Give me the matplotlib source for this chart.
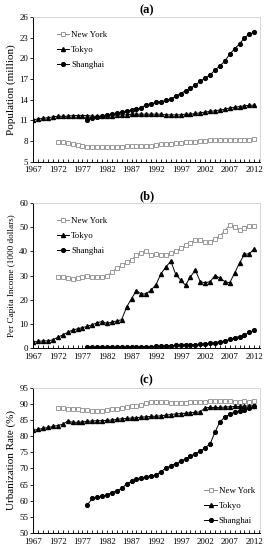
import matplotlib
matplotlib.use("Agg")
import matplotlib.pyplot as plt
import numpy as np
from matplotlib.ticker import MultipleLocator

plt.rcParams['font.family'] = ['Liberation Serif', 'DejaVu Serif']

years_ny = list(range(1972, 2013))
years_tk = list(range(1967, 2013))
years_sh = list(range(1978, 2013))

pop_ny = [7.9, 7.8, 7.7, 7.5, 7.4, 7.3, 7.2, 7.2, 7.1, 7.1, 7.1, 7.2, 7.2, 7.2, 7.3,
          7.3, 7.3, 7.3, 7.3, 7.3, 7.4, 7.5, 7.6, 7.6, 7.7, 7.7, 7.8, 7.9, 7.9, 8.0,
          8.0, 8.1, 8.1, 8.1, 8.1, 8.1, 8.2, 8.2, 8.2, 8.2, 8.3]
pop_tk = [11.1, 11.2, 11.3, 11.4, 11.5, 11.6, 11.6, 11.6, 11.7, 11.7, 11.7, 11.7, 11.6,
          11.6, 11.6, 11.7, 11.7, 11.8, 11.8, 11.8, 11.9, 11.9, 11.9, 11.9, 11.9, 11.9,
          11.9, 11.8, 11.8, 11.8, 11.8, 11.9, 11.9, 12.0, 12.1, 12.2, 12.3, 12.4, 12.5,
          12.6, 12.8, 12.9, 13.0, 13.1, 13.2, 13.2]
pop_sh = [11.0, 11.4, 11.5, 11.6, 11.8, 11.9, 12.0, 12.2, 12.3, 12.5, 12.6, 12.8, 13.3,
          13.4, 13.6, 13.7, 13.9, 14.1, 14.5, 14.9, 15.3, 15.7, 16.1, 16.7, 17.1, 17.6,
          18.3, 18.9, 19.6, 20.6, 21.4, 22.1, 23.0, 23.5, 23.8]

inc_ny = [29.3, 29.6, 29.0, 28.7, 28.8, 29.5, 29.9, 29.6, 29.2, 29.3, 30.0, 31.3, 33.2,
          34.2, 35.5, 36.5, 38.5, 39.5, 40.0, 38.3, 38.8, 38.5, 38.5, 39.3, 40.0, 41.2,
          42.5, 43.5, 44.8, 44.6, 43.8, 43.8, 45.3, 46.3, 48.6, 50.8, 50.0, 48.8, 49.8,
          50.5, 50.6]
inc_tk = [2.5, 2.8, 3.0, 3.0, 3.5, 4.5, 5.5, 6.5, 7.5, 8.0, 8.5, 9.0, 9.7, 10.5, 11.0,
          10.2, 10.8, 11.2, 11.8, 17.0, 20.5, 23.8, 22.3, 22.5, 24.0, 26.3, 30.8, 33.5,
          36.0, 30.5, 28.2, 26.0, 29.5, 32.2, 27.5, 27.0, 27.5, 30.0, 29.0, 27.5, 27.0,
          31.0, 35.2, 38.8, 39.0, 41.0]
inc_sh = [0.3, 0.3, 0.35, 0.4, 0.4, 0.4, 0.4, 0.45, 0.45, 0.5, 0.55, 0.6, 0.6, 0.6, 0.7,
          0.8, 0.9, 1.0, 1.1, 1.2, 1.3, 1.4, 1.5, 1.6, 1.8, 2.0, 2.3, 2.6, 3.0, 3.6, 4.3,
          4.8, 5.5, 6.5, 7.5]

urb_ny = [88.6, 88.6, 88.5, 88.4, 88.3, 88.2, 88.0, 87.8, 87.7, 87.8, 88.1, 88.3, 88.5,
          88.8, 89.0, 89.2, 89.3, 89.5, 90.2, 90.6, 90.7, 90.6, 90.5, 90.4, 90.3, 90.3,
          90.4, 90.5, 90.5, 90.6, 90.7, 90.8, 90.9, 90.9, 90.8, 90.8, 90.7, 90.6, 90.8,
          90.7, 90.8]
urb_tk = [81.8, 82.1, 82.4, 82.7, 83.0, 83.3, 83.7, 84.7, 84.3, 84.3, 84.4, 84.6, 84.7,
          84.8, 84.8, 84.9, 85.0, 85.2, 85.4, 85.5, 85.6, 85.7, 85.9, 86.0, 86.1, 86.2,
          86.3, 86.5, 86.7, 86.9, 87.0, 87.1, 87.3, 87.4, 87.5, 88.8, 88.9, 88.9, 88.9,
          89.0, 89.1, 89.2, 89.2, 89.3, 89.4, 89.4]
urb_sh = [58.7, 60.7, 61.2, 61.4, 61.8, 62.5, 63.1, 63.8, 65.2, 66.0, 66.6, 67.0, 67.4,
          67.7, 67.9, 69.0, 70.1, 70.8, 71.5, 72.2, 73.0, 73.8, 74.6, 75.3, 76.4, 77.6,
          81.2, 84.5, 85.8, 86.8, 87.5, 87.8, 88.0, 88.6, 89.3]

labels = ["New York", "Tokyo", "Shanghai"]
titles = ["(a)", "(b)", "(c)"]
ylabels = ["Population (million)", "Per Capita Income (1000 dollars)", "Urbanization Rate (%)"]
yticks_a = [5, 8, 11, 14, 17, 20, 23, 26]
yticks_b = [0, 10, 20, 30, 40, 50, 60]
yticks_c = [50, 55, 60, 65, 70, 75, 80, 85, 90, 95]
xticks = [1967, 1972, 1977, 1982, 1987, 1992, 1997, 2002, 2007, 2012]

fig = plt.figure(figsize=(2.69, 5.5), dpi=100)
rects = [[0.124, 0.706, 0.843, 0.263],
         [0.124, 0.367, 0.843, 0.264],
         [0.124, 0.031, 0.843, 0.264]]
yticks_all = [yticks_a, yticks_b, yticks_c]
ylabel_sizes = [8.0, 6.6, 8.0]
data = [(pop_ny, pop_tk, pop_sh), (inc_ny, inc_tk, inc_sh), (urb_ny, urb_tk, urb_sh)]
legend_locs = [dict(loc='upper left', bbox_to_anchor=(0.08, 0.94)),
               dict(loc='upper left', bbox_to_anchor=(0.08, 0.94)),
               dict(loc='lower right', bbox_to_anchor=(1.0, 0.02))]

fs = 6.4
for i in range(3):
    ax = fig.add_axes(rects[i])
    ny, tk, sh = data[i]
    ax.plot(years_ny, ny, color='#8c8c8c', lw=0.7, marker='s', ms=2.9,
            mfc='white', mec='#8c8c8c', mew=0.6, label=labels[0])
    ax.plot(years_tk, tk, color='black', lw=0.7, marker='^', ms=2.9,
            mfc='black', mec='black', label=labels[1])
    ax.plot(years_sh, sh, color='black', lw=0.7, marker='o', ms=2.7,
            mfc='black', mec='black', label=labels[2])
    ax.set_xlim(1967, 2013.2)
    ax.set_ylim(yticks_all[i][0], yticks_all[i][-1])
    ax.set_xticks(xticks)
    ax.set_yticks(yticks_all[i])
    ax.xaxis.set_minor_locator(MultipleLocator(1))
    ax.tick_params(axis='x', which='both', direction='in', length=2.2, width=0.6,
                   labelsize=fs, pad=3.3, top=False)
    ax.tick_params(axis='y', which='both', direction='out', length=2.2, width=0.6,
                   labelsize=fs, pad=1.5, right=False)
    for s in ['top', 'right']:
        ax.spines[s].set_color('#d0d0d0')
        ax.spines[s].set_linewidth(0.6)
    for s in ['left', 'bottom']:
        ax.spines[s].set_color('black')
        ax.spines[s].set_linewidth(0.7)
    ax.set_ylabel(ylabels[i], fontsize=ylabel_sizes[i], labelpad=2)
    ax.set_title(titles[i], fontsize=9, fontweight='bold', pad=3)
    ax.legend(frameon=False, fontsize=fs, handlelength=1.4, handletextpad=0.2,
              labelspacing=0.75, borderaxespad=0.2, **legend_locs[i])

fig.savefig("out.png", dpi=100)
